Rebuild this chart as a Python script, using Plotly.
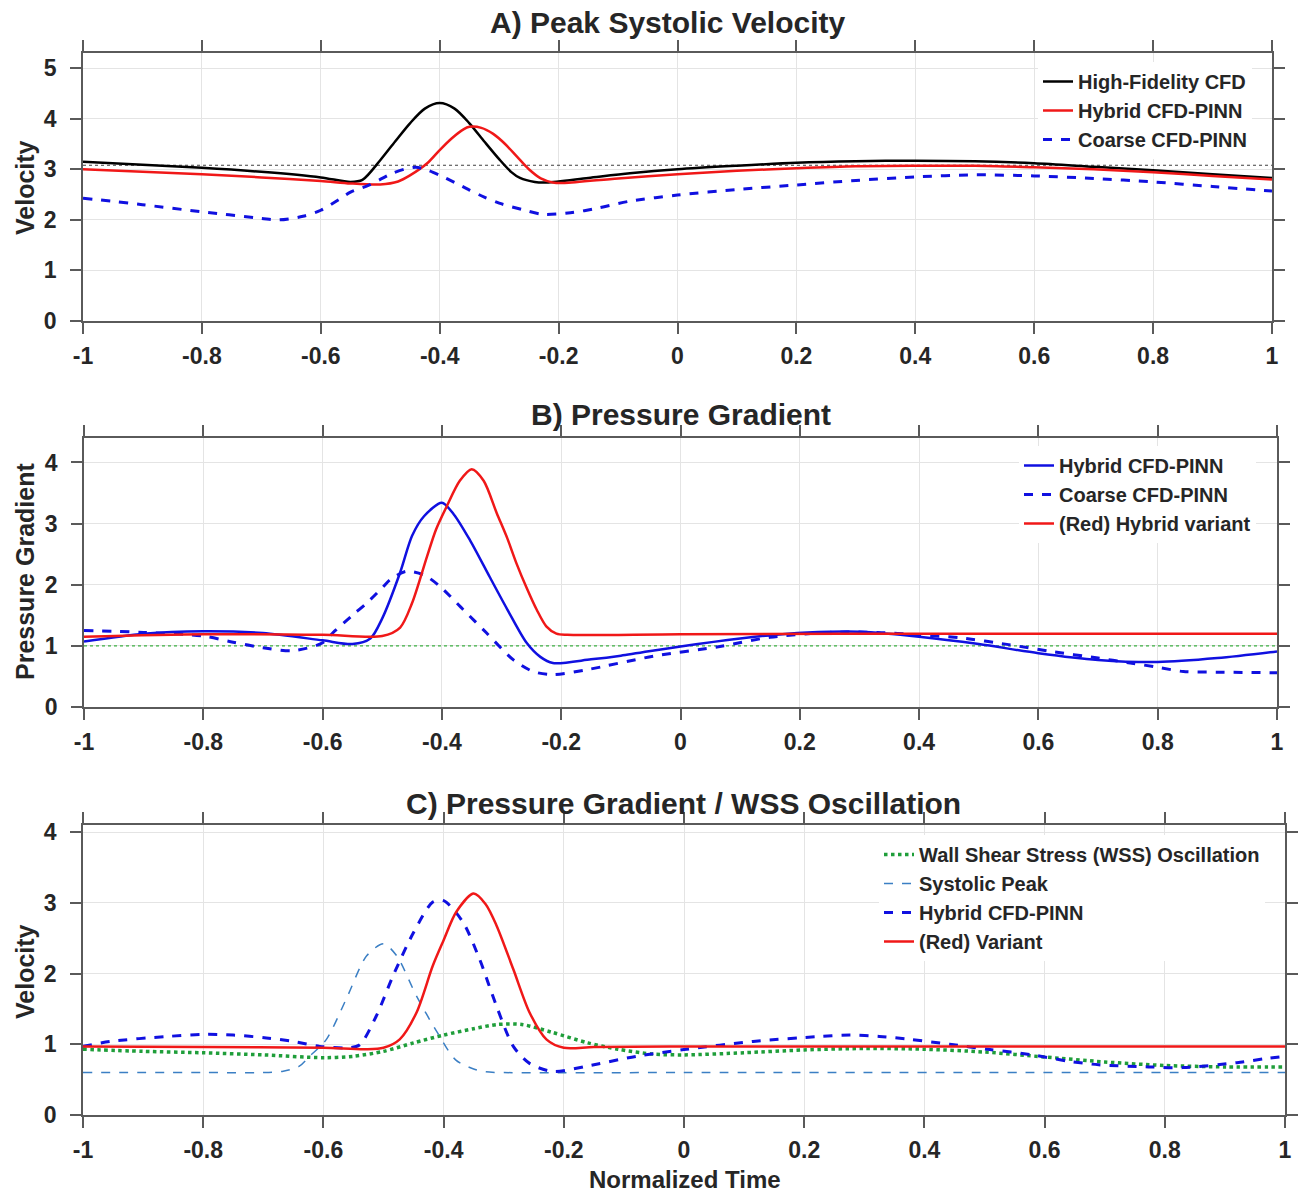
import plotly.graph_objects as go

# ---------------- Panel A: Peak Systolic Velocity ----------------
a_hf_x = [-1, -0.9, -0.8, -0.7, -0.6, -0.55, -0.53, -0.5, -0.475, -0.45, -0.425, -0.4,
          -0.375, -0.35, -0.325, -0.3, -0.28, -0.265, -0.24, -0.22, -0.15, -0.08,
          0, 0.1, 0.2, 0.3, 0.4, 0.5, 0.6, 0.7, 0.8, 0.9, 1.0]
a_hf_y = [3.15, 3.09, 3.03, 2.95, 2.84, 2.75, 2.79, 3.18, 3.55, 3.91, 4.2, 4.31,
          4.2, 3.91, 3.55, 3.2, 2.95, 2.83, 2.75, 2.74, 2.83, 2.92,
          3.0, 3.07, 3.13, 3.16, 3.17, 3.16, 3.12, 3.05, 2.98, 2.9, 2.83]

a_hy_x = [-1, -0.9, -0.8, -0.7, -0.6, -0.55, -0.5, -0.47, -0.45, -0.42, -0.4, -0.38,
          -0.36, -0.35, -0.33, -0.31, -0.29, -0.27, -0.25, -0.23, -0.21, -0.19,
          -0.1, 0, 0.1, 0.2, 0.3, 0.4, 0.5, 0.6, 0.7, 0.8, 0.9, 1.0]
a_hy_y = [3.0, 2.95, 2.9, 2.84, 2.77, 2.72, 2.70, 2.76, 2.88, 3.13, 3.38, 3.61,
          3.79, 3.84, 3.82, 3.7, 3.5, 3.25, 3.0, 2.82, 2.74, 2.73,
          2.82, 2.9, 2.97, 3.02, 3.06, 3.07, 3.07, 3.04, 3.0, 2.94, 2.87, 2.8]

a_co_x = [-1, -0.9, -0.8, -0.7, -0.67, -0.63, -0.6, -0.57, -0.55, -0.52, -0.5, -0.48,
          -0.46, -0.44, -0.42, -0.4, -0.375, -0.35, -0.325, -0.3, -0.26, -0.226,
          -0.18, -0.135, -0.08, 0, 0.1, 0.2, 0.3, 0.4, 0.5, 0.6, 0.7, 0.8, 0.9, 1.0]
a_co_y = [2.43, 2.3, 2.16, 2.03, 2.0, 2.07, 2.19, 2.4, 2.55, 2.68, 2.8, 2.92,
          3.0, 3.04, 2.98, 2.88, 2.74, 2.59, 2.45, 2.33, 2.2, 2.11,
          2.14, 2.23, 2.37, 2.49, 2.6, 2.69, 2.78, 2.85, 2.89, 2.87, 2.82, 2.75, 2.66, 2.57]

a_ref_x = [-1, 1]
a_ref_y = [3.08, 3.08]

# ---------------- Panel B: Pressure Gradient ----------------
b_hy_x = [-1, -0.9, -0.8, -0.7, -0.6, -0.55, -0.52, -0.5, -0.47, -0.45, -0.43, -0.4,
          -0.38, -0.353, -0.32, -0.29, -0.258, -0.235, -0.214, -0.15, -0.1, 0,
          0.1, 0.18, 0.25, 0.3, 0.4, 0.5, 0.6, 0.7, 0.8, 0.9, 1.0]
b_hy_y = [1.07, 1.2, 1.24, 1.21, 1.09, 1.03, 1.12, 1.45, 2.2, 2.8, 3.12, 3.34,
          3.15, 2.73, 2.13, 1.59, 1.05, 0.82, 0.72, 0.78, 0.84, 0.99,
          1.12, 1.2, 1.23, 1.23, 1.15, 1.03, 0.88, 0.77, 0.735, 0.8, 0.91]

b_co_x = [-1, -0.9, -0.8, -0.75, -0.7, -0.65, -0.6, -0.58, -0.55, -0.526, -0.5, -0.487,
          -0.46, -0.43, -0.403, -0.364, -0.325, -0.28, -0.247, -0.214, -0.157, -0.046,
          0.066, 0.15, 0.25, 0.33, 0.4, 0.47, 0.55, 0.62, 0.7, 0.754, 0.8, 0.843, 0.9, 1.0]
b_co_y = [1.25, 1.22, 1.16, 1.06, 0.97, 0.92, 1.05, 1.24, 1.5, 1.7, 1.95, 2.08,
          2.22, 2.16, 1.97, 1.59, 1.21, 0.77, 0.58, 0.53, 0.61, 0.83,
          0.99, 1.14, 1.22, 1.22, 1.18, 1.13, 1.02, 0.91, 0.8, 0.72, 0.65, 0.58, 0.57, 0.56]

b_red_x = [-1, -0.8, -0.6, -0.5, -0.47, -0.45, -0.425, -0.41, -0.392, -0.37, -0.35,
           -0.33, -0.308, -0.29, -0.275, -0.258, -0.241, -0.225, -0.208, -0.19, 0, 0.5, 1.0]
b_red_y = [1.15, 1.19, 1.18, 1.16, 1.3, 1.7, 2.46, 2.9, 3.28, 3.7, 3.89,
           3.7, 3.17, 2.75, 2.35, 1.95, 1.59, 1.32, 1.2, 1.18, 1.19, 1.2, 1.2]

b_ref_x = [-1, 1]
b_ref_y = [1.0, 1.0]

# ---------------- Panel C: Pressure Gradient / WSS Oscillation ----------------
c_wss_x = [-1, -0.9, -0.8, -0.7, -0.6, -0.55, -0.5, -0.45, -0.4, -0.35, -0.31, -0.27,
           -0.22, -0.16, -0.11, -0.05, 0, 0.1, 0.2, 0.3, 0.4, 0.5, 0.6, 0.7, 0.8, 0.9, 1.0]
c_wss_y = [0.93, 0.9, 0.88, 0.85, 0.81, 0.83, 0.9, 1.02, 1.13, 1.22, 1.28, 1.28,
           1.17, 1.02, 0.93, 0.86, 0.85, 0.88, 0.92, 0.94, 0.93, 0.89, 0.82, 0.75, 0.7, 0.68, 0.68]

c_sys_x = [-1, -0.8, -0.7, -0.667, -0.64, -0.623, -0.595, -0.562, -0.528, -0.5, -0.478,
           -0.445, -0.41, -0.38, -0.35, -0.33, -0.3, 0, 1.0]
c_sys_y = [0.6, 0.6, 0.6, 0.62, 0.69, 0.83, 1.07, 1.64, 2.25, 2.42, 2.25,
           1.68, 1.16, 0.78, 0.65, 0.61, 0.6, 0.6, 0.6]

c_hy_x = [-1, -0.955, -0.86, -0.8, -0.75, -0.695, -0.65, -0.606, -0.562, -0.54, -0.512,
          -0.484, -0.45, -0.418, -0.4, -0.368, -0.34, -0.312, -0.284, -0.257, -0.218,
          -0.162, -0.079, 0, 0.115, 0.226, 0.276, 0.325, 0.376, 0.442, 0.509, 0.58,
          0.64, 0.69, 0.773, 0.83, 0.92, 0.97, 1.0]
c_hy_y = [0.97, 1.04, 1.11, 1.14, 1.13, 1.09, 1.04, 0.97, 0.95, 0.99, 1.4,
          1.97, 2.58, 3.01, 3.03, 2.73, 2.2, 1.54, 0.97, 0.73, 0.615,
          0.69, 0.83, 0.925, 1.04, 1.11, 1.13, 1.11, 1.07, 1.0, 0.925, 0.85,
          0.76, 0.71, 0.68, 0.67, 0.74, 0.8, 0.83]

c_red_x = [-1, -0.8, -0.6, -0.53, -0.5, -0.473, -0.445, -0.418, -0.4, -0.379, -0.35,
           -0.33, -0.312, -0.284, -0.257, -0.229, -0.2, -0.15, 0, 1.0]
c_red_y = [0.97, 0.96, 0.95, 0.93, 0.95, 1.07, 1.45, 2.11, 2.47, 2.87, 3.13,
           2.98, 2.68, 2.06, 1.45, 1.07, 0.95, 0.96, 0.97, 0.97]

# ---------------- ticks / labels ----------------
x_tickvals = [-1, -0.8, -0.6, -0.4, -0.2, 0, 0.2, 0.4, 0.6, 0.8, 1]
x_ticktext = ["-1", "-0.8", "-0.6", "-0.4", "-0.2", "0", "0.2", "0.4", "0.6", "0.8", "1"]
a_yticks = [0, 1, 2, 3, 4, 5]
b_yticks = [0, 1, 2, 3, 4]
c_yticks = [0, 1, 2, 3, 4]

FONT = "Liberation Sans, Arial, Helvetica, sans-serif"
TXT = "#262626"
RED = "#f01818"
BLUE = "#1010e0"

fig = go.Figure()

def line(x, y, name, color, width, dash="solid", xa="x", ya="y", legend="legend", show=True):
    fig.add_trace(go.Scatter(
        x=x, y=y, name=name, mode="lines", xaxis=xa, yaxis=ya, legend=legend,
        showlegend=show, hoverinfo="skip",
        line=dict(color=color, width=width, dash=dash, shape="spline", smoothing=0.8)))

# Panel A
line(a_ref_x, a_ref_y, "ref", "#404040", 1.2, "dot", "x", "y", "legend", False)
line(a_hf_x, a_hf_y, "High-Fidelity CFD", "#000000", 2.5, "solid", "x", "y", "legend")
line(a_hy_x, a_hy_y, "Hybrid CFD-PINN", RED, 2.5, "solid", "x", "y", "legend")
line(a_co_x, a_co_y, "Coarse CFD-PINN", BLUE, 3, "dash", "x", "y", "legend")

# Panel B
line(b_ref_x, b_ref_y, "ref", "#3cb043", 1.2, "dot", "x2", "y2", "legend2", False)
line(b_hy_x, b_hy_y, "Hybrid CFD-PINN", BLUE, 2.5, "solid", "x2", "y2", "legend2")
line(b_co_x, b_co_y, "Coarse CFD-PINN", BLUE, 3, "dash", "x2", "y2", "legend2")
line(b_red_x, b_red_y, "(Red) Hybrid variant", RED, 2.5, "solid", "x2", "y2", "legend2")

# Panel C
line(c_wss_x, c_wss_y, "Wall Shear Stress (WSS) Oscillation", "#1f9e3a", 3.5, "dot", "x3", "y3", "legend3")
line(c_sys_x, c_sys_y, "Systolic Peak", "#3b7fc4", 1.5, "dash", "x3", "y3", "legend3")
line(c_hy_x, c_hy_y, "Hybrid CFD-PINN", BLUE, 3, "dash", "x3", "y3", "legend3")
line(c_red_x, c_red_y, "(Red) Variant", RED, 2.5, "solid", "x3", "y3", "legend3")

W, H = 1306, 1194
def px(v): return v / W
def py(v): return 1 - v / H

axis_common = dict(
    showline=True, mirror="ticks", linecolor="#5a5a5a", linewidth=1.5,
    ticks="outside", ticklen=11, tickcolor="#5a5a5a", tickwidth=1.5,
    showgrid=True, gridcolor="#e4e4e4", gridwidth=1, zeroline=False,
    tickfont=dict(family=FONT, size=23, color=TXT, weight="bold"),
)

def xax(dom, anchor):
    return dict(axis_common, domain=dom, anchor=anchor, range=[-1, 1],
                tickvals=x_tickvals, ticktext=x_ticktext, ticklabelstandoff=3)

def yax(dom, anchor, rng, ticks):
    return dict(axis_common, domain=dom, anchor=anchor, range=rng,
                tickvals=ticks, ticktext=[str(t) for t in ticks], ticklabelstandoff=9)

legend_common = dict(
    bgcolor="rgba(255,255,255,1)", borderwidth=0,
    font=dict(family=FONT, size=20, color=TXT, weight="bold"),
    xanchor="right", yanchor="top", tracegroupgap=0, traceorder="normal",
)

fig.update_layout(
    width=W, height=H, margin=dict(l=0, r=0, t=0, b=0, autoexpand=False),
    paper_bgcolor="white", plot_bgcolor="white", showlegend=True,
    font=dict(family=FONT, color=TXT),
    xaxis=xax([px(83), px(1272)], "y"),
    yaxis=yax([py(321), py(53)], "x", [0, 5.3], a_yticks),
    xaxis2=xax([px(84), px(1277)], "y2"),
    yaxis2=yax([py(707), py(438)], "x2", [0, 4.4], b_yticks),
    xaxis3=xax([px(83), px(1285)], "y3"),
    yaxis3=yax([py(1115), py(825)], "x3", [0, 4.1], c_yticks),
    legend=dict(legend_common, x=px(1252), y=py(62)),
    legend2=dict(legend_common, x=px(1256), y=py(446)),
    legend3=dict(legend_common, x=px(1265), y=py(835)),
)

def ann(text, x, y, size, angle=0):
    fig.add_annotation(text=text, x=px(x), y=py(y), xref="paper", yref="paper",
                       showarrow=False, xanchor="center", yanchor="middle", textangle=angle,
                       font=dict(family=FONT, size=size, color=TXT, weight="bold"))

ann("A) Peak Systolic Velocity", 667, 22, 30)
ann("B) Pressure Gradient", 681, 415, 30)
ann("C) Pressure Gradient / WSS Oscillation", 684, 803, 30)
ann("Velocity", 25, 187, 25, -90)
ann("Pressure Gradient", 25, 572, 25, -90)
ann("Velocity", 25, 971, 25, -90)
ann("Normalized Time", 685, 1179, 24)

fig.write_html("out.html")
